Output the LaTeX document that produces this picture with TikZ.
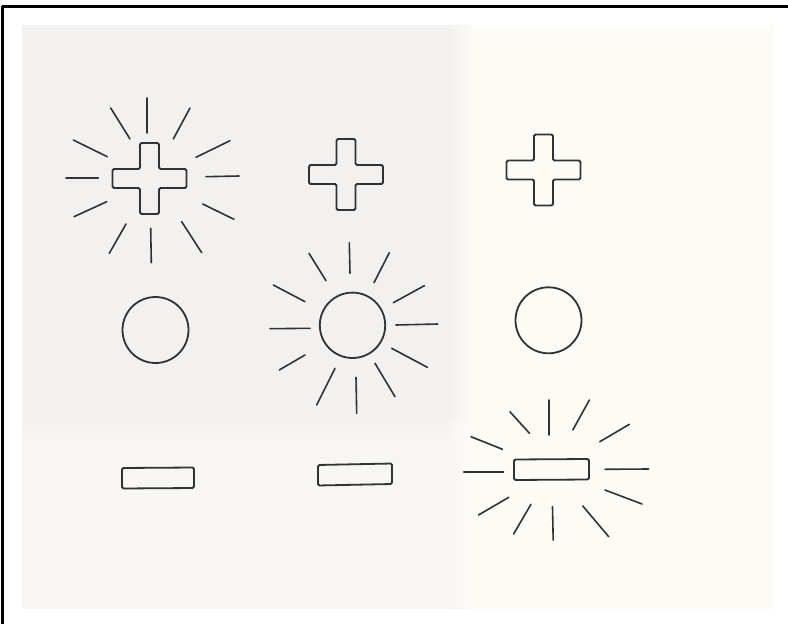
\documentclass[tikz,border=0pt]{standalone}
\usepackage{tikz}
\definecolor{inkcol}{RGB}{50,50,50}
\definecolor{papergrey}{RGB}{242,241,239}
\definecolor{papermid}{RGB}{247,246,243}
\definecolor{papercream}{RGB}{252,251,246}
\tikzset{
  shapeline/.style={draw=inkcol, line width=1.8pt, rounded corners=1.5pt},
  ray/.style={draw=inkcol, line width=1.6pt, line cap=round},
  frameline/.style={draw=black, line width=2.8pt},
  plussign/.pic={
    \draw[shapeline] (-9.5,-35.5) -- (9.5,-35.5) -- (9.5,-9.5) -- (37,-9.5) -- (37,9.5)
      -- (9.5,9.5) -- (9.5,35.5) -- (-9.5,35.5) -- (-9.5,9.5) -- (-37,9.5)
      -- (-37,-9.5) -- (-9.5,-9.5) -- cycle;
  }
}
\begin{document}
\begin{tikzpicture}[x=1pt,y=-1pt]
\useasboundingbox (0,0) rectangle (788,624);
\fill[white] (0,0) rectangle (788,624);
% paper
\fill[papercream] (22,25) rectangle (773,609);
\fill[papermid] (22,420) rectangle (450,609);
\shade[left color=papermid, right color=papercream] (450,420) rectangle (474,609);
\fill[papergrey] (22,25) rectangle (450,420);
\shade[left color=papergrey, right color=papercream] (450,25) rectangle (474,420);
\shade[top color=papergrey, bottom color=papermid] (22,420) rectangle (450,440);
% frame (top and left edges)
\draw[frameline] (1.5,6.8) -- (788,6.8);
\draw[frameline] (2.8,5.5) -- (2.8,624);

% row 1: crosses
\pic at (149.5,178.5) {plussign};
\pic at (346,174.5) {plussign};
\pic at (543.5,170) {plussign};
% rays around cross 1
\foreach \a/\b/\c/\d in {
  146.7/98/146.7/133, 110.7/108/130/139, 190/108/173.3/139,
  73.3/140/107.3/156.7, 230/140.7/196/157.3, 66/178/98.3/178,
  206/176.7/239/176, 74/216.7/106.7/201.7, 202.7/204/234/219.3,
  109.3/253.3/126/224, 150.7/228.3/151.3/262.7, 181.7/221.7/201.7/252.7}
  \draw[ray] (\a,\b) -- (\c,\d);

% row 2: circles
\draw[shapeline] (155.5,330) circle[radius=33];
\draw[shapeline] (352.5,325.3) circle[radius=32.7];
\draw[shapeline] (548.5,320.3) circle[radius=33];
% rays around circle 2
\foreach \a/\b/\c/\d in {
  349.3/242.7/350/273.3, 309/253.3/326/280.7, 389.3/252.7/374/282.7,
  273.3/285/305/301.7, 424.3/285.7/393.3/302.7, 270/328.7/310/328.3,
  396/325/437.7/324, 279.3/370/305/355, 391.7/348.3/427.3/367.3,
  316.7/405/335/368.3, 356/377.3/356.7/413.3, 375/363.3/395/396.7}
  \draw[ray] (\a,\b) -- (\c,\d);

% row 3: bars
\draw[shapeline] (122,468) -- (194,467.5) -- (194,488) -- (122,488.5) -- cycle;
\draw[shapeline] (318,465) -- (392,463.5) -- (392,484) -- (318,485.5) -- cycle;
\draw[shapeline] (514,459.5) -- (589,459) -- (589,479.5) -- (514,480) -- cycle;
% rays around bar 3
\foreach \a/\b/\c/\d in {
  548.7/400/548.7/435, 509.9/411.7/529.5/433.3, 589.4/400/572.8/430,
  471/436.7/502.5/449.3, 629.4/424.3/599.8/441.7, 463.7/471.7/503.6/471.7,
  605/469.3/648.6/469, 478.5/515/508.8/497.3, 605/490/642/504,
  513.6/534/531/504.3, 552.5/506.7/553.2/540, 582.8/506/608.7/536.7}
  \draw[ray] (\a,\b) -- (\c,\d);
\end{tikzpicture}
\end{document}
